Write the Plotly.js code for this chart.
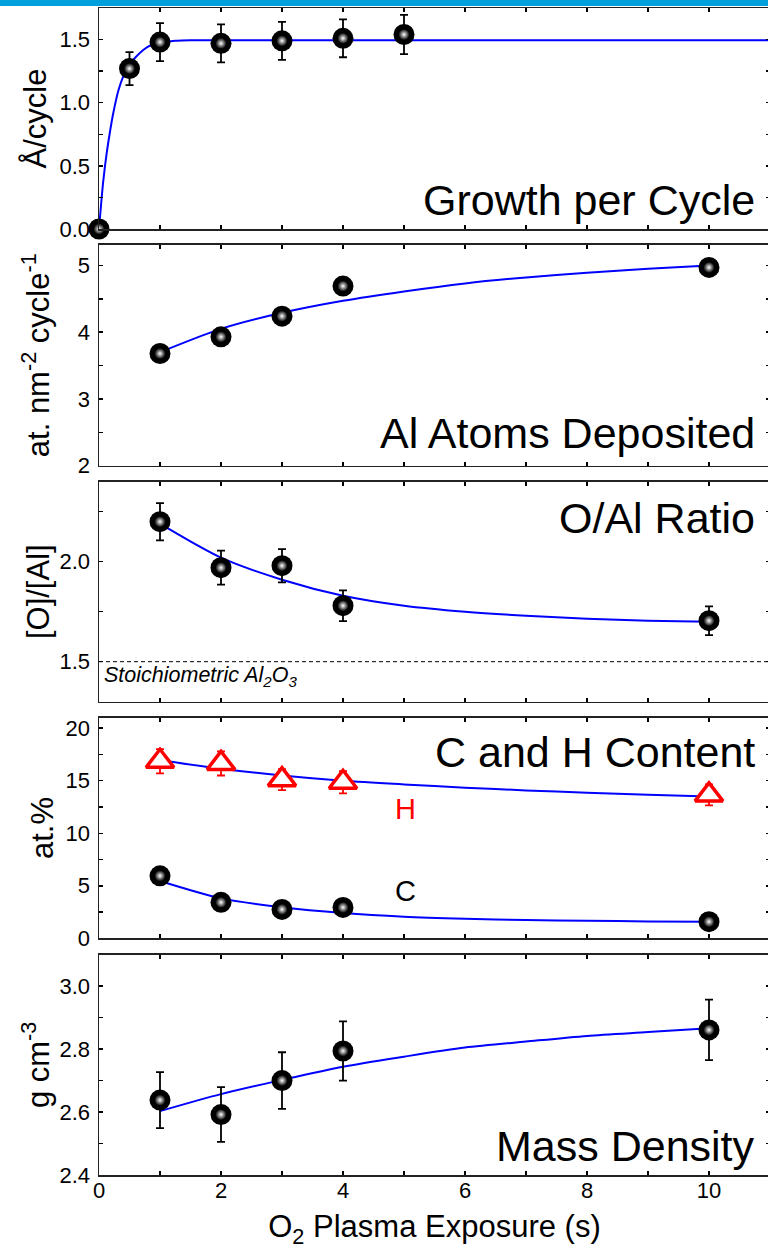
<!DOCTYPE html>
<html><head><meta charset="utf-8">
<script src="https://cdn.plot.ly/plotly-3.0.1.min.js"></script>
<style>
html,body{margin:0;padding:0;overflow:hidden;background:#fff}
#bar{position:absolute;left:0;top:0;width:768px;height:6px;background:#00a0dc;z-index:10}
#chart{position:absolute;left:0;top:0;width:770px;height:1249px}
</style></head><body>
<div id="chart"></div><div id="bar"></div>
<script>
// ---------- data ----------
// Panel 1: Growth per Cycle (Å/cycle)
const gpcX   = [0, 0.5, 1, 2, 3, 4, 5];
const gpcY   = [0, 1.27, 1.48, 1.47, 1.49, 1.51, 1.54];
const gpcErr = [0, 0.13, 0.15, 0.15, 0.15, 0.15, 0.155];
const gpcFitX = [0, 0.035, 0.07, 0.126, 0.18, 0.235, 0.32, 0.4, 0.5, 0.6, 0.73, 0.85, 1.0, 1.25, 1.5, 2, 11];
const gpcFitY = [0, 0.2, 0.38, 0.6, 0.77, 0.92, 1.1, 1.21, 1.3, 1.36, 1.42, 1.455, 1.475, 1.49, 1.495, 1.495, 1.495];

// Panels 2-5 share these exposure times (s)
const exposure = [1, 2, 3, 4, 10];
const fitX     = [1, 2, 3, 4, 5, 6, 7, 8, 9, 10];

// Panel 2: Al atoms deposited (at. nm^-2 cycle^-1)
const alY   = [3.68, 3.93, 4.24, 4.69, 4.97];
const alErr = [0.04, 0.04, 0.04, 0.06, 0.07];
const alFit = [3.70, 4.05, 4.29, 4.47, 4.61, 4.73, 4.82, 4.89, 4.95, 5.00];

// Panel 3: O/Al ratio
const oalY   = [2.20, 1.97, 1.98, 1.78, 1.705];
const oalErr = [0.093, 0.085, 0.083, 0.077, 0.072];
const oalFit = [2.19, 2.02, 1.91, 1.83, 1.78, 1.75, 1.73, 1.715, 1.705, 1.70];
const stoichRatio = 1.5;

// Panel 4: C and H content (at.%)
const hY   = [16.85, 16.65, 15.1, 14.85, 13.65];
const hErr = [1.15, 1.15, 1.0, 1.05, 1.0];
const hFit = [16.95, 16.15, 15.5, 15.0, 14.65, 14.34, 14.08, 13.86, 13.67, 13.51];
const cY   = [5.95, 3.42, 2.75, 2.94, 1.58];
const cErr = [0.2, 0.2, 0.2, 0.2, 0.2];
const cFit = [5.45, 3.8, 2.95, 2.4, 2.05, 1.86, 1.74, 1.67, 1.61, 1.58];

// Panel 5: Mass density (g cm^-3)
const densY   = [2.638, 2.592, 2.70, 2.794, 2.861];
const densErr = [0.089, 0.087, 0.09, 0.094, 0.096];
const densFit = [2.603, 2.657, 2.702, 2.744, 2.776, 2.805, 2.824, 2.842, 2.854, 2.866];

const xTickVals = [0, 2, 4, 6, 8, 10];

// ---------- styling helpers ----------
const FONT = 'Arial, "Liberation Sans", sans-serif';
const BLUE = '#0000ff';

function fitTrace(x, y, ax) {
  return {x: x, y: y, xaxis: ax[0], yaxis: ax[1], mode: 'lines', type: 'scatter',
    line: {color: BLUE, width: 2, shape: 'spline', smoothing: 0.8},
    hoverinfo: 'skip', showlegend: false, cliponaxis: true};
}
function sphereTraces(x, y, err, ax) {
  return [
    {x: x, y: y, xaxis: ax[0], yaxis: ax[1], mode: 'markers', type: 'scatter',
     marker: {color: '#000', size: 21, line: {width: 0}},
     error_y: {type: 'data', array: err, visible: true, color: '#000', thickness: 1.8, width: 4},
     showlegend: false, cliponaxis: false},
    {x: x, y: y, xaxis: ax[0], yaxis: ax[1], mode: 'markers', type: 'scatter',
     marker: {color: '#000', size: 11, line: {width: 0},
              gradient: {type: 'radial', color: '#ffffff'}},
     hoverinfo: 'skip', showlegend: false, cliponaxis: false}
  ];
}

const traces = [];
traces.push(fitTrace(gpcFitX, gpcFitY, ['x', 'y']));
traces.push(...sphereTraces(gpcX, gpcY, gpcErr, ['x', 'y']));

traces.push(fitTrace(fitX, alFit, ['x2', 'y2']));
traces.push(...sphereTraces(exposure, alY, alErr, ['x2', 'y2']));

traces.push(fitTrace(fitX, oalFit, ['x3', 'y3']));
traces.push(...sphereTraces(exposure, oalY, oalErr, ['x3', 'y3']));

traces.push(fitTrace(fitX, hFit, ['x4', 'y4']));
traces.push({x: exposure, y: hY, xaxis: 'x4', yaxis: 'y4', mode: 'markers', type: 'scatter',
  marker: {symbol: 'triangle-up', color: '#ffffff', size: 24, line: {color: '#ff0000', width: 3.5}},
  error_y: {type: 'data', array: hErr, visible: true, color: '#ff0000', thickness: 1.8, width: 4},
  showlegend: false, cliponaxis: false});
traces.push(fitTrace(fitX, cFit, ['x4', 'y4']));
traces.push(...sphereTraces(exposure, cY, cErr, ['x4', 'y4']));

traces.push(fitTrace(fitX, densFit, ['x5', 'y5']));
traces.push(...sphereTraces(exposure, densY, densErr, ['x5', 'y5']));

// ---------- layout ----------
const H = 1249;
const panelPx = [[8, 229], [244.7, 465.7], [481.7, 701.7], [717.7, 938.3], [954.7, 1175]];
const dom = panelPx.map(p => [1 - p[1] / H, 1 - p[0] / H]);

function xAxis(i, labels) {
  const a = {
    domain: [0, 1], range: [0, 11], anchor: i === 1 ? 'y' : 'y' + i,
    tickmode: 'array', tickvals: xTickVals, ticks: 'inside', ticklen: 4, tickwidth: 1.5, tickcolor: '#000',
    minor: {dtick: 1, tick0: 0, ticks: 'inside', ticklen: 4, tickwidth: 1.5, tickcolor: '#000', showgrid: false},
    showline: true, linecolor: '#222', linewidth: 1.5, mirror: 'allticks',
    showgrid: false, zeroline: false, showticklabels: labels, ticklabelstandoff: -5,
    tickfont: {family: FONT, size: 22, color: '#000'}, fixedrange: true
  };
  if (labels) {
    a.title = {text: 'O<sub>2</sub> Plasma Exposure (s)', font: {family: FONT, size: 31, color: '#000'}, standoff: 26};
  }
  return a;
}
function yAxis(i, range, dtick, minor, fmt, title, standoff) {
  return {
    domain: dom[i - 1], range: range, anchor: i === 1 ? 'x' : 'x' + i,
    dtick: dtick, tick0: 0, tickformat: fmt, ticks: 'inside', ticklen: 4, tickwidth: 1.5, tickcolor: '#000',
    minor: {dtick: minor, ticks: 'inside', ticklen: 4, tickwidth: 1.5, tickcolor: '#000', showgrid: false},
    showline: true, linecolor: '#222', linewidth: 1.5, mirror: 'allticks',
    showgrid: false, zeroline: false, ticklabelstandoff: 3,
    tickfont: {family: FONT, size: 22, color: '#000'},
    title: {text: title, font: {family: FONT, size: 31, color: '#000'}, standoff: standoff},
    fixedrange: true
  };
}

const bigFont = {family: FONT, size: 43, color: '#000'};
function label(text, xr, yr, x, y, font, anchor) {
  return {text: text, xref: xr, yref: yr, x: x, y: y, showarrow: false,
    xanchor: anchor || 'right', yanchor: 'middle', font: font};
}

const layout = {
  width: 770, height: H, margin: {l: 99, r: 0, t: 0, b: 0},
  paper_bgcolor: '#fff', plot_bgcolor: '#fff', showlegend: false,
  font: {family: FONT, color: '#000'},
  xaxis: xAxis(1, false), xaxis2: xAxis(2, false), xaxis3: xAxis(3, false), xaxis4: xAxis(4, false), xaxis5: xAxis(5, true),
  yaxis:  yAxis(1, [0, 1.75], 0.5, 0.25, '.1f', 'Å/cycle', 3),
  yaxis2: yAxis(2, [2, 5.31], 1, 0.5, 'd', 'at. nm<sup>-2</sup> cycle<sup>-1</sup>', 19),
  yaxis3: yAxis(3, [1.3, 2.4], 0.5, 0.25, '.1f', '[O]/[Al]', 0),
  yaxis4: yAxis(4, [0, 21], 5, 2.5, 'd', 'at.%', 3),
  yaxis5: yAxis(5, [2.4, 3.1], 0.2, 0.1, '.1f', 'g cm<sup>-3</sup>', 0),
  annotations: [
    label('Growth per Cycle', 'x', 'y', 10.79, 0.229, bigFont),
    label('Al Atoms Deposited', 'x2', 'y2', 10.79, 2.485, bigFont),
    label('O/Al Ratio', 'x3', 'y3', 10.79, 2.22, bigFont),
    label('C and H Content', 'x4', 'y4', 10.79, 17.76, bigFont),
    label('Mass Density', 'x5', 'y5', 10.79, 2.493, bigFont),
    label('H', 'x4', 'y4', 5.02, 12.3, {family: FONT, size: 29, color: '#ff0000'}, 'center'),
    label('C', 'x4', 'y4', 5.02, 4.5, {family: FONT, size: 29, color: '#000'}, 'center'),
    label('<i>Stoichiometric Al<sub>2</sub>O<sub>3</sub></i>', 'x3', 'y3', 0.05, 1.425, {family: FONT, size: 21.5, color: '#000'}, 'left')
  ],
  shapes: [
    {type: 'line', xref: 'x3 domain', yref: 'y3', x0: 0, x1: 1, y0: stoichRatio, y1: stoichRatio,
     line: {color: '#000', width: 1, dash: '4px,3px'}, layer: 'below'}
  ]
};

Plotly.newPlot('chart', traces, layout, {displayModeBar: false, staticPlot: true});
</script>
</body></html>
